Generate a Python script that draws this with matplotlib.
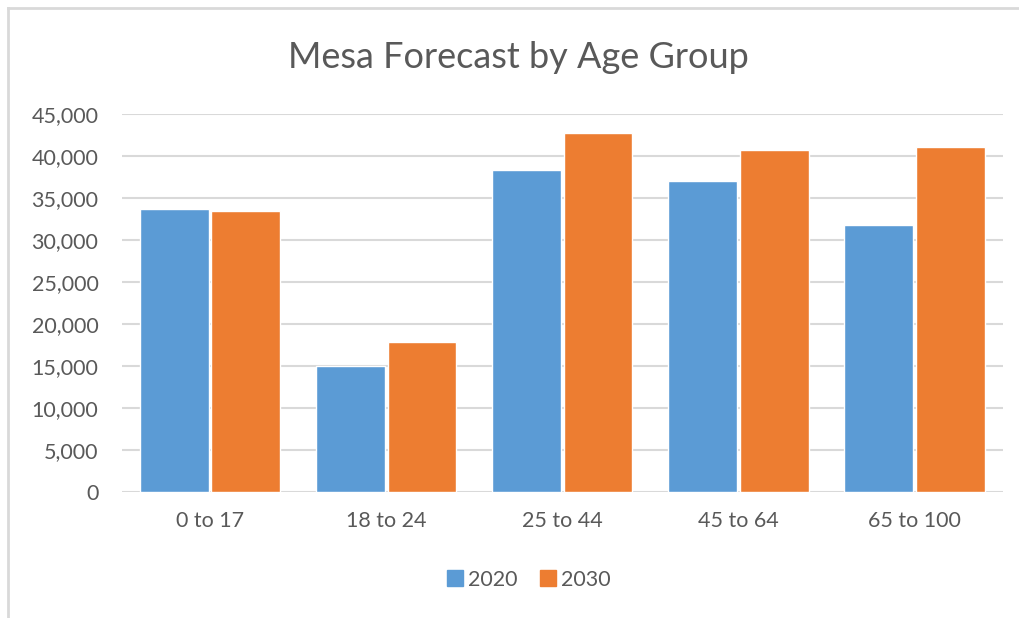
import numpy as np
import matplotlib
matplotlib.use('Agg')
import matplotlib.pyplot as plt
from matplotlib.lines import Line2D
from matplotlib.ticker import FuncFormatter

# population by age group, Mesa forecast
age_groups = ["0 to 17", "18 to 24", "25 to 44", "45 to 64", "65 to 100"]
pop_2020 = [33700, 15000, 38300, 37000, 31800]
pop_2030 = [33400, 17800, 42700, 40750, 41100]
series_names = ["2020", "2030"]

BLUE = '#5b9bd5'
ORANGE = '#ed7d31'
TEXT = '#595959'
GRID = '#d9d9d9'

plt.rcParams['font.family'] = ['Lato', 'DejaVu Sans']

fig = plt.figure(figsize=(10.2, 6.18), dpi=100, facecolor='white')
ax = fig.add_axes([0.1196, 0.2039, 0.8634, 0.6116])

x = np.arange(len(age_groups))
w = 0.39
ax.bar(x - w / 2 - 0.008, pop_2020, w, color=BLUE, edgecolor='white', linewidth=1, zorder=3)
ax.bar(x + w / 2 + 0.008, pop_2030, w, color=ORANGE, edgecolor='white', linewidth=1, zorder=3)

ax.set_xlim(-0.5, len(age_groups) - 0.5)
ax.set_ylim(0, 45000)
ax.set_yticks(np.arange(0, 45001, 5000))
ax.yaxis.set_major_formatter(FuncFormatter(lambda v, _: f"{int(v):,}"))
ax.set_xticks(x)
ax.set_xticklabels(age_groups)
ax.tick_params(axis='both', length=0, colors=TEXT, labelsize=15.5)
ax.tick_params(axis='y', pad=17)
ax.tick_params(axis='x', pad=14)
ax.grid(axis='y', color=GRID, linewidth=1.5, zorder=0)
for sp in ax.spines.values():
    sp.set_visible(False)

fig.text(0.508, 0.907, "Mesa Forecast by Age Group", ha='center', va='center',
         color=TEXT, fontsize=26)

handles = [Line2D([], [], marker='s', linestyle='none', markersize=11,
                  markerfacecolor=c, markeredgecolor=c) for c in (BLUE, ORANGE)]
fig.legend(handles, series_names, loc='center', bbox_to_anchor=(0.518, 0.062),
           ncol=2, frameon=False, fontsize=15.5, labelcolor=TEXT,
           handletextpad=0.2, columnspacing=1.0, handlelength=0.8)

# chart frame: top and left edges
fig.add_artist(Line2D([0.0078, 1.0], [0.987, 0.987], color='#d9d9d9', linewidth=2,
                      transform=fig.transFigure))
fig.add_artist(Line2D([0.0078, 0.0078], [0.0, 0.987], color='#d9d9d9', linewidth=2,
                      transform=fig.transFigure))

fig.savefig('out.png', dpi=100, facecolor='white')
